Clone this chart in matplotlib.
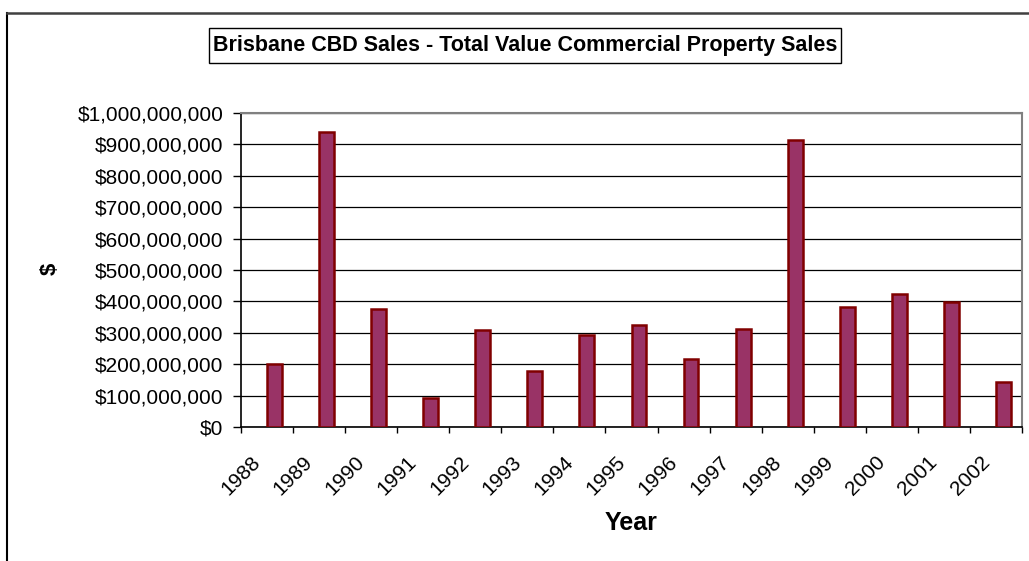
import matplotlib
matplotlib.use("Agg")
import matplotlib.pyplot as plt
from matplotlib.ticker import FuncFormatter, FixedLocator
from matplotlib.patches import Rectangle
import numpy as np

years = ["1988", "1989", "1990", "1991", "1992", "1993", "1994", "1995",
         "1996", "1997", "1998", "1999", "2000", "2001", "2002"]
sales = [202e6, 939e6, 375e6, 91e6, 309e6, 179e6, 294e6, 325e6,
         215e6, 312e6, 915e6, 381e6, 423e6, 398e6, 143e6]
y_ticks = [i * 100e6 for i in range(11)]

plt.rcParams['font.family'] = ['Liberation Sans', 'DejaVu Sans']

W, H = 1029, 561
fig = plt.figure(figsize=(W / 100, H / 100), dpi=100)

# outer chart frame (top and left visible)
fig.add_artist(plt.Line2D([7 / W, 7 / W], [0, 1 - 13 / H], transform=fig.transFigure,
                          color='black', lw=1.5))
fig.add_artist(plt.Line2D([7 / W, 1], [1 - 13 / H, 1 - 13 / H], transform=fig.transFigure,
                          color='#404040', lw=1.8))

left, right, top, bottom = 241, 1022, 113, 427
ax = fig.add_axes([left / W, 1 - bottom / H, (right - left) / W, (bottom - top) / H])

n = len(years)
x = np.arange(n)
bw = 1 / 3.5
ax.bar(x + bw / 2, sales, width=bw, color='#993366', edgecolor='#800000',
       linewidth=1.8, zorder=3)

ax.set_xlim(-0.5, n - 0.5)
ax.set_ylim(0, 1e9)
ax.yaxis.set_major_locator(FixedLocator(y_ticks))
ax.yaxis.set_major_formatter(FuncFormatter(lambda v, p: "${:,.0f}".format(v)))
ax.grid(axis='y', color='black', lw=0.9, zorder=1)

ax.set_xticks(np.arange(n + 1) - 0.5)
ax.set_xticklabels([])
ax.set_xticks(x - 0.18, minor=True)
ax.set_xticklabels(years, minor=True, rotation=45, ha='right', va='center',
                   rotation_mode='anchor', fontsize=15)
ax.tick_params(axis='x', which='minor', length=0, pad=23)
ax.tick_params(axis='x', which='major', length=4.5, width=1, direction='out')
ax.tick_params(axis='y', length=5.8, width=1, direction='out', labelsize=15, pad=7)

for s in ['left', 'bottom']:
    ax.spines[s].set_color('black')
    ax.spines[s].set_linewidth(1.2)
for s in ['top', 'right']:
    ax.spines[s].set_color('#808080')
    ax.spines[s].set_linewidth(1.5)

fig.text(50 / W, 1 - 269 / H, "$", rotation=90, fontsize=16, fontweight='bold',
         ha='center', va='center')
fig.text(631.5 / W, 1 - 523 / H, "Year", fontsize=18, fontweight='bold',
         ha='center', va='center')

fig.add_artist(Rectangle((209 / W, 1 - 63 / H), (841 - 209) / W, 35 / H,
                         transform=fig.transFigure, facecolor='white',
                         edgecolor='black', lw=1))
fig.text(525 / W, 1 - 46 / H, "Brisbane CBD Sales - Total Value Commercial Property Sales",
         fontsize=15.5, fontweight='bold', ha='center', va='center')

fig.savefig("out.png", dpi=100)
